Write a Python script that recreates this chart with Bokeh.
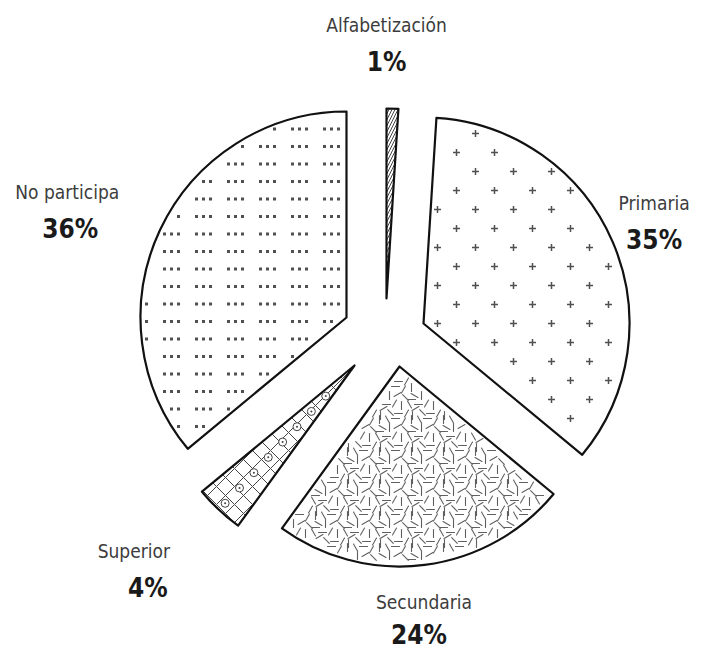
import math
from bokeh.plotting import figure
from bokeh.models import Range1d, ColumnDataSource
from bokeh.embed import file_html
from bokeh.resources import INLINE
from bokeh.core.properties import value

# ---------------- data ----------------
categories = ["Alfabetización", "Primaria", "Secundaria", "Superior", "No participa"]
percents = [1, 35, 24, 4, 36]
pct_labels = ["1%", "35%", "24%", "4%", "36%"]

# ---------------- style ----------------
W, H = 691, 653
CX, CY = 385, 335                      # pie centre (pixels from top-left)
explode = [(1, -37), (38, -12), (14, 31), (-31, 30), (-39, -18)]
radii = [190, 206, 200, 198, 206]
label_r = [293, 292, 287, 343, 342]
label_nudge = [-1.6, 0.3, -0.5, 4.0, -3.7]
pct_dx = [0, 0, -5, 14, 3]
pct_dy = [19, 19, 15, 19, 19]
hatches = ["/", " ", " ", "x", " "]
hatch_scales = [6, 10, 10, 18, 10]
FONT = "DejaVu Sans Condensed, Liberation Sans Narrow, sans-serif"
TEX = "#505050"

def sx(x):
    return x

def sy(y):
    return H - y

# ---------------- geometry from data ----------------
total = float(sum(percents))
apex, th1, th2, mids = [], [], [], []
acc = 0.0
for i, v in enumerate(percents):
    t1 = acc / total * 360.0
    acc += v
    t2 = acc / total * 360.0
    apex.append((CX + explode[i][0], CY + explode[i][1]))
    th1.append(t1); th2.append(t2); mids.append((t1 + t2) / 2.0)

def inside(px, py, i, m):
    ax, ay = apex[i]
    dx, dy = px - ax, py - ay
    r = math.hypot(dx, dy)
    if r < 1e-6 or r > radii[i] - m:
        return False
    th = math.degrees(math.atan2(dx, -dy)) % 360.0
    if not (th1[i] <= th <= th2[i]):
        return False
    d1, d2 = th - th1[i], th2[i] - th
    e1 = r * math.sin(math.radians(d1)) if d1 < 90 else r
    e2 = r * math.sin(math.radians(d2)) if d2 < 90 else r
    return e1 > m and e2 > m

src = ColumnDataSource(dict(
    x=[sx(a[0]) for a in apex], y=[sy(a[1]) for a in apex], r=radii,
    start=[90.0 - t for t in th2], end=[90.0 - t for t in th1],
    hatch=hatches, hscale=hatch_scales, cat=categories))

p = figure(width=W, height=H, output_backend="svg", toolbar_location=None,
           x_range=Range1d(0, W), y_range=Range1d(0, H), min_border=0)
p.axis.visible = False
p.grid.visible = False
p.outline_line_color = None
p.background_fill_color = "white"
p.border_fill_color = "white"

p.wedge(x="x", y="y", radius="r", start_angle="start", end_angle="end",
        start_angle_units="deg", end_angle_units="deg", direction="anticlock",
        source=src, fill_color="white", line_color="#111111", line_width=2.2,
        line_join="round", hatch_pattern="hatch", hatch_scale="hscale",
        hatch_color="#444444", hatch_weight=1)

# --- texture: Primaria, small plus signs on an offset grid ---
px_, py_ = [], []
for j in range(-5, 40):
    for k in range(-2, 22):
        x = 38 * k + (19 if j % 2 else 0)
        y = 19 * j
        if inside(x, y, 1, 5):
            px_.append(sx(x)); py_.append(sy(y))
p.scatter(px_, py_, marker="cross", size=7, line_color=TEX, line_width=1.5)

# --- texture: No participa, rows of three dots ---
dx_, dy_ = [], []
for j in range(0, 40):
    for k in range(0, 14):
        for o in (0, 7, 14):
            x = 32 * k + 4 + o
            y = 17.5 * j + 6
            if inside(x, y, 4, 4):
                dx_.append(sx(x)); dy_.append(sy(y))
p.scatter(dx_, dy_, marker="square", size=3, fill_color=TEX, line_color=None)

# --- texture: Secundaria, short dashes in several directions ---
segs = [(3, 3, 60), (11, 2, 0), (19, 5, 120), (27, 3, 90), (30, 11, 30), (5, 11, 90),
        (13, 10, 150), (21, 13, 45), (2, 20, 0), (10, 19, 120), (17, 21, 90), (25, 20, 60),
        (31, 24, 150), (6, 28, 45), (14, 29, 0), (22, 29, 120), (28, 31, 90), (27, 15, 0)]
x0s, y0s, x1s, y1s = [], [], [], []
for a in range(6, 20):
    for b in range(9, 22):
        for (ox, oy, ang) in segs:
            cx, cy = 32 * a + ox, 32 * b + oy
            if inside(cx, cy, 2, 6):
                c, s = 4 * math.cos(math.radians(ang)), 4 * math.sin(math.radians(ang))
                x0s.append(sx(cx - c)); y0s.append(sy(cy - s))
                x1s.append(sx(cx + c)); y1s.append(sy(cy + s))
p.segment(x0s, y0s, x1s, y1s, line_color="#606060", line_width=1.1, line_cap="round")

# --- texture: Superior, rings along the slice ---
ax, ay = apex[3]
m = math.radians(mids[3])
rx_, ry_ = [], []
for rr in range(42, 190, 21):
    rx_.append(sx(ax + rr * math.sin(m))); ry_.append(sy(ay - rr * math.cos(m)))
p.scatter(rx_, ry_, marker="circle_dot", size=8, fill_color="white",
          line_color="#444444", line_width=1)

# ---------------- labels ----------------
name_x, name_y, pct_x, pct_y = [], [], [], []
for i, md in enumerate(mids):
    a = math.radians(md + label_nudge[i])
    lx = CX + label_r[i] * math.sin(a)
    ly = CY - label_r[i] * math.cos(a)
    name_x.append(sx(lx)); name_y.append(sy(ly - 18))
    pct_x.append(sx(lx + pct_dx[i])); pct_y.append(sy(ly + pct_dy[i]))

names = ColumnDataSource(dict(x=name_x, y=name_y, text=categories))
pcts = ColumnDataSource(dict(x=pct_x, y=pct_y, text=pct_labels))
p.text(x="x", y="y", text="text", source=names, text_align="center",
       text_baseline="middle", text_font=value(FONT),
       text_font_size="19px", text_color="#3c3c3c")
p.text(x="x", y="y", text="text", source=pcts, text_align="center",
       text_baseline="middle", text_font=value(FONT),
       text_font_size="26px", text_font_style="bold", text_color="#1a1a1a")

open("out.html", "w").write(file_html(p, INLINE))
